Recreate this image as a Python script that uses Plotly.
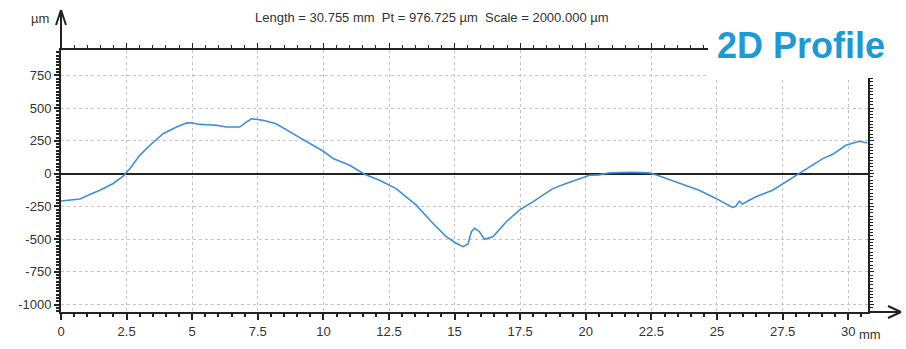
import plotly.graph_objects as go

# Profile data (mm, µm)
x_mm = [0, 0.72, 1.1, 1.48, 1.99, 2.37, 2.63, 3.0, 3.39, 3.89, 4.4, 4.78, 4.97, 5.29,
        5.6, 5.93, 6.3, 6.81, 7.06, 7.26, 7.5, 7.7, 8.2, 8.72, 9.1, 9.6, 10.0, 10.37,
        11.0, 11.57, 12.14, 12.77, 13.54, 14.17, 14.68, 15.06, 15.32, 15.51, 15.64,
        15.76, 15.95, 16.14, 16.46, 16.97, 17.47, 17.98, 18.74, 19.25, 19.76, 20.14,
        20.5, 20.9, 21.77, 22.4, 22.67, 23.56, 24.32, 24.96, 25.34, 25.59, 25.72,
        25.85, 25.97, 26.48, 27.12, 27.62, 28.07, 28.52, 29.03, 29.4, 29.91, 30.42, 30.73]
height_um = [-210, -195, -160, -128, -76, -20, 38, 139, 216, 304, 355, 385, 388, 375,
             372, 368, 355, 355, 392, 418, 412, 406, 380, 316, 274, 216, 170, 114,
             63, -5, -51, -115, -241, -380, -482, -532, -558, -538, -444,
             -418, -444, -502, -482, -368, -279, -216, -115, -76, -43, -13,
             -10, 5, 10, 5, -10, -76, -127, -190, -233, -259, -250,
             -211, -233, -178, -127, -64, -5, 51, 114, 145, 216, 246, 233]

x_ticks = [0, 2.5, 5, 7.5, 10, 12.5, 15, 17.5, 20, 22.5, 25, 27.5, 30]
x_labels = ["0", "2.5", "5", "7.5", "10", "12.5", "15", "17.5", "20", "22.5", "25", "27.5", "30"]
y_ticks = [-1000, -750, -500, -250, 0, 250, 500, 750]
y_labels = ["-1000", "-750", "-500", "-250", "0", "250", "500", "750"]

title_text = "Length = 30.755 mm  Pt = 976.725 µm  Scale = 2000.000 µm"

X_RANGE = [0, 30.755]
Y_RANGE = [-1057, 943]

W, H = 906, 349
L, R, T, B = 61, 38, 50, 37
PW, PH = W - L - R, H - T - B

def px(xp):
    return (xp - L) / PW

def py(yp):
    return (H - B - yp) / PH

AX = "#222222"
TXT = "#333333"
FONT = "Liberation Sans, Arial, sans-serif"

fig = go.Figure()
fig.add_trace(go.Scatter(x=x_mm, y=height_um, mode="lines",
                         line=dict(color="#3d8fd8", width=1.6),
                         showlegend=False, hoverinfo="skip"))
# invisible trace to carry the top/right frame axes
fig.add_trace(go.Scatter(x=x_mm, y=height_um, mode="lines", xaxis="x2", yaxis="y2",
                         line=dict(width=0), opacity=0, showlegend=False, hoverinfo="skip"))

grid = dict(showgrid=True, gridcolor="#c4c4c4", griddash="3px,3px", gridwidth=1)

fig.update_layout(
    width=W, height=H,
    margin=dict(l=L, r=R, t=T, b=B, autoexpand=False),
    paper_bgcolor="white", plot_bgcolor="white",
    font=dict(family=FONT, size=13, color=TXT),
    xaxis=dict(range=X_RANGE, tickmode="array", tickvals=x_ticks, ticktext=x_labels,
               ticks="outside", ticklen=6, tickwidth=1.5, tickcolor=AX,
               showline=True, linecolor=AX, linewidth=2, zeroline=False,
               minor=dict(tickmode="linear", tick0=0, dtick=0.5, ticks="outside",
                          ticklen=3, tickcolor=AX, showgrid=False),
               tickfont=dict(size=13, color=TXT), **grid),
    yaxis=dict(range=Y_RANGE, tickmode="array", tickvals=y_ticks, ticktext=y_labels,
               ticks="outside", ticklen=5, tickwidth=1.5, tickcolor=AX,
               showline=True, linecolor=AX, linewidth=2,
               zeroline=True, zerolinecolor=AX, zerolinewidth=1.5,
               minor=dict(tickmode="linear", tick0=0, dtick=25, ticks="outside",
                          ticklen=3, tickcolor=AX, showgrid=False),
               tickfont=dict(size=13, color=TXT), **grid),
    xaxis2=dict(range=X_RANGE, overlaying="x", side="top", anchor="y2",
                showline=True, linecolor=AX, linewidth=2, showgrid=False, zeroline=False,
                tickmode="array", tickvals=x_ticks, ticks="outside", ticklen=5,
                tickcolor=AX, showticklabels=False,
                minor=dict(tickmode="linear", tick0=0, dtick=0.5, ticks="outside",
                           ticklen=3, tickcolor=AX)),
    yaxis2=dict(range=Y_RANGE, overlaying="y", side="right", anchor="x2",
                showline=True, linecolor=AX, linewidth=2, showgrid=False, zeroline=False,
                tickmode="array", tickvals=y_ticks, ticks="outside", ticklen=4,
                tickcolor=AX, showticklabels=False,
                minor=dict(tickmode="linear", tick0=0, dtick=25, ticks="outside",
                           ticklen=3, tickcolor=AX)),
)

shapes = [
    # white box behind logo, hides the frame corner
    dict(type="rect", xref="paper", yref="paper", x0=px(708), x1=px(910),
         y0=py(78), y1=py(15), fillcolor="white", line=dict(width=0), layer="above"),
    # y axis arrow
    dict(type="line", xref="paper", yref="paper", x0=0, x1=0, y0=1, y1=py(10),
         line=dict(color=AX, width=2)),
    dict(type="line", xref="paper", yref="paper", x0=0, x1=px(56), y0=py(10), y1=py(25),
         line=dict(color=AX, width=2)),
    dict(type="line", xref="paper", yref="paper", x0=0, x1=px(66), y0=py(10), y1=py(25),
         line=dict(color=AX, width=2)),
    # x axis arrow
    dict(type="line", xref="paper", yref="paper", x0=1, x1=px(901), y0=0, y1=0,
         line=dict(color=AX, width=2)),
    dict(type="line", xref="paper", yref="paper", x0=px(901), x1=px(888), y0=0, y1=py(306),
         line=dict(color=AX, width=2)),
    dict(type="line", xref="paper", yref="paper", x0=px(901), x1=px(888), y0=0, y1=py(318),
         line=dict(color=AX, width=2)),
]
fig.update_layout(shapes=shapes)

annotations = [
    dict(text=title_text, xref="paper", yref="paper", x=px(432), y=py(17),
         showarrow=False, xanchor="center", yanchor="middle",
         font=dict(size=13, color=TXT, family=FONT)),
    dict(text="µm", xref="paper", yref="paper", x=px(40), y=py(18),
         showarrow=False, xanchor="center", yanchor="middle",
         font=dict(size=13, color=TXT, family=FONT)),
    dict(text="mm", xref="paper", yref="paper", x=px(857), y=py(334),
         showarrow=False, xanchor="left", yanchor="middle",
         font=dict(size=13, color=TXT, family=FONT)),
    dict(text="<b>2D Profile</b>", xref="paper", yref="paper", x=px(801), y=py(45),
         showarrow=False, xanchor="center", yanchor="middle",
         font=dict(size=36, color="#1b9ad6", family=FONT)),
]
fig.update_layout(annotations=annotations)

fig.write_html("out.html", config={"displayModeBar": False})

# remove the default page margin so the figure sits at the window origin
with open("out.html", "r", encoding="utf-8") as f:
    html = f.read()
html = html.replace("<head>", "<head><style>html,body{margin:0;padding:0;}</style>", 1)
with open("out.html", "w", encoding="utf-8") as f:
    f.write(html)
